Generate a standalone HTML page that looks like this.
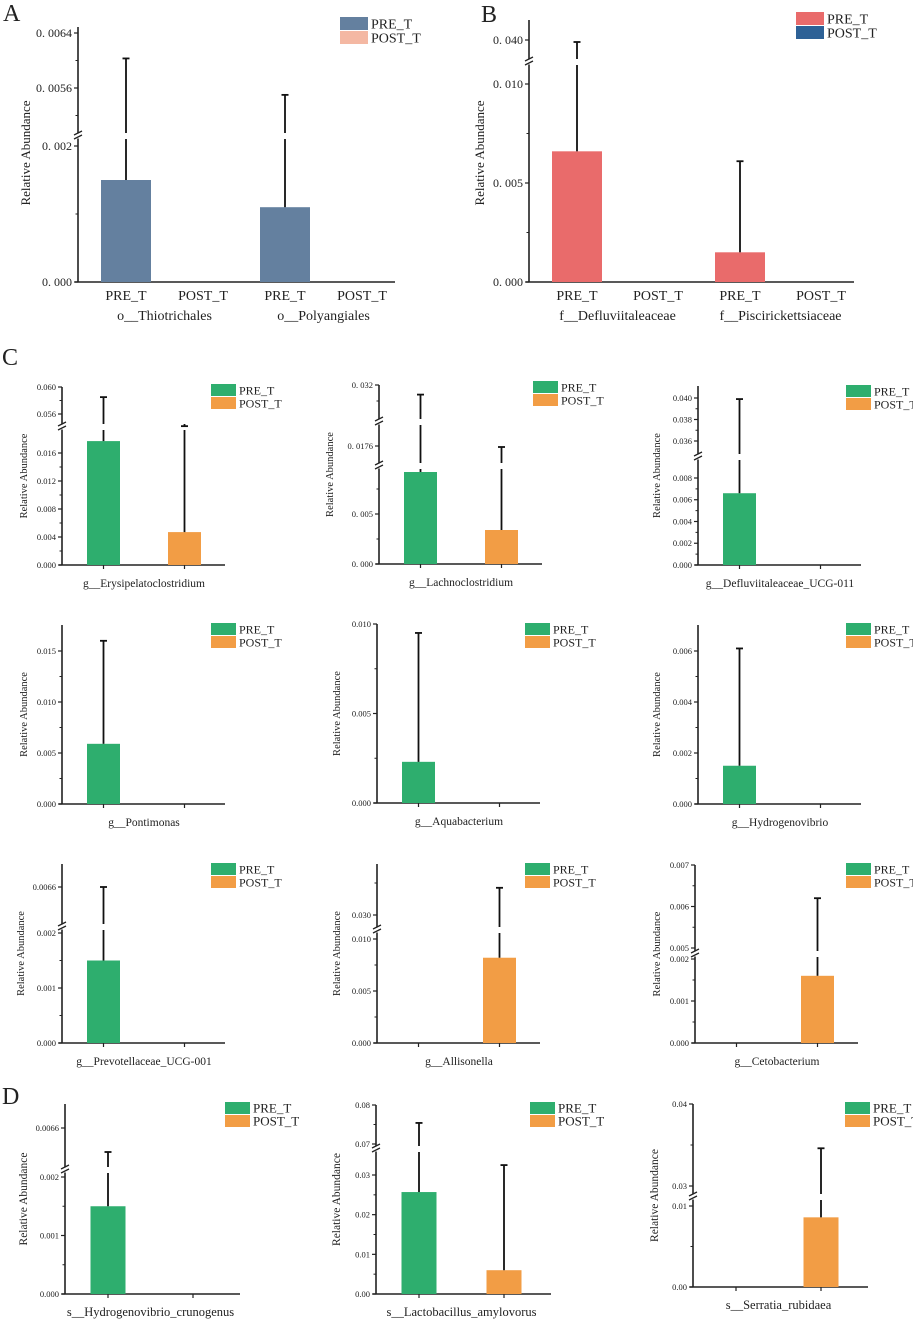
<!DOCTYPE html>
<html><head><meta charset="utf-8"><style>
html,body{margin:0;padding:0;background:#fff}
svg{display:block}
text{font-family:"Liberation Serif",serif;fill:#222}
</style></head><body>
<svg id="fig" width="913" height="1321" viewBox="0 0 913 1321" xmlns="http://www.w3.org/2000/svg">
<text x="3" y="21" font-size="24">A</text>
<text x="481" y="22" font-size="24">B</text>
<text x="2" y="365" font-size="24">C</text>
<text x="2" y="1104" font-size="24">D</text>
</svg>
<script>
// ---------- data ----------
const groups = ["PRE_T","POST_T"];
// Panel A
const aTaxa = ["o__Thiotrichales","o__Polyangiales"];
const aPre = [0.0015, 0.0011];
const aPreErr = [0.00603, 0.0055];
const aPost = [0, 0];
const aPostErr = [0, 0];
const aTicks = [0, 0.002, 0.0056, 0.0064];
const aTickLabels = ["0. 000","0. 002","0. 0056","0. 0064"];
const aMinor = [0.001, 0.0052, 0.0060];
// Panel B
const bTaxa = ["f__Defluviitaleaceae","f__Piscirickettsiaceae"];
const bPre = [0.0066, 0.0015];
const bPreErr = [0.0398, 0.0061];
const bPost = [0, 0];
const bPostErr = [0, 0];
const bTicks = [0, 0.005, 0.010, 0.040];
const bTickLabels = ["0. 000","0. 005","0. 010","0. 040"];
const bMinor = [0.0025, 0.0075];
// Panels C (genus) and D (species)
const cTaxa = ["g__Erysipelatoclostridium","g__Lachnoclostridium","g__Defluviitaleaceae_UCG-011",
  "g__Pontimonas","g__Aquabacterium","g__Hydrogenovibrio",
  "g__Prevotellaceae_UCG-001","g__Allisonella","g__Cetobacterium",
  "s__Hydrogenovibrio_crunogenus","s__Lactobacillus_amylovorus","s__Serratia_rubidaea"];
const cPre = [0.0177, 0.0092, 0.0066, 0.0059, 0.0023, 0.0015, 0.0015, 0, 0, 0.0015, 0.0257, 0];
const cPreErr = [0.0585, 0.0314, 0.0399, 0.016, 0.0095, 0.0061, 0.0066, 0, 0, 0.0063, 0.0754, 0];
const cPost = [0.0047, 0.0034, 0, 0, 0, 0, 0, 0.0082, 0.0016, 0, 0.006, 0.0086];
const cPostErr = [0.0542, 0.0175, 0, 0, 0, 0, 0, 0.0317, 0.0062, 0, 0.0325, 0.0346];
const cTicks = [
  [0,0.004,0.008,0.012,0.016,0.056,0.060],
  [0,0.005,0.0176,0.032],
  [0,0.002,0.004,0.006,0.008,0.036,0.038,0.040],
  [0,0.005,0.010,0.015],
  [0,0.005,0.010],
  [0,0.002,0.004,0.006],
  [0,0.001,0.002,0.0066],
  [0,0.005,0.010,0.030],
  [0,0.001,0.002,0.005,0.006,0.007],
  [0,0.001,0.002,0.0066],
  [0,0.01,0.02,0.03,0.07,0.08],
  [0,0.01,0.03,0.04]];
const cTickLabels = [
  ["0.000","0.004","0.008","0.012","0.016","0.056","0.060"],
  ["0. 000","0. 005","0. 0176","0. 032"],
  ["0.000","0.002","0.004","0.006","0.008","0.036","0.038","0.040"],
  ["0.000","0.005","0.010","0.015"],
  ["0.000","0.005","0.010"],
  ["0.000","0.002","0.004","0.006"],
  ["0.000","0.001","0.002","0.0066"],
  ["0.000","0.005","0.010","0.030"],
  ["0.000","0.001","0.002","0.005","0.006","0.007"],
  ["0.000","0.001","0.002","0.0066"],
  ["0.00","0.01","0.02","0.03","0.07","0.08"],
  ["0.00","0.01","0.03","0.04"]];
const cMinor = [
  [0.002,0.006,0.010,0.014,0.058],
  [0.0025,0.0075,0.031],
  [0.001,0.003,0.005,0.007,0.037,0.039],
  [0.0025,0.0075,0.0125],
  [0.0025,0.0075],
  [0.001,0.003,0.005],
  [0.0005,0.0015],
  [0.0025,0.0075,0.032],
  [0.0005,0.0015,0.0055,0.0065],
  [0.0005,0.0015],
  [0.005,0.015,0.025,0.075],
  [0.005,0.035]];

// ---------- layout (axes geometry, not data) ----------
const NS = "http://www.w3.org/2000/svg";
const svg = document.getElementById("fig");
function mk(tag, attrs, parent){
  const e = document.createElementNS(NS, tag);
  for (const k in attrs) e.setAttribute(k, attrs[k]);
  (parent||svg).appendChild(e);
  return e;
}
function makeScale(segs){
  return function(v){
    let s = segs[0];
    for (let i = segs.length-1; i >= 0; i--){ if (v >= segs[i].lo){ s = segs[i]; break; } }
    return s.a[1] + (v - s.a[0]) * (s.b[1]-s.a[1]) / (s.b[0]-s.a[0]);
  };
}
const panelLayouts = {
  A:{x0:78,xEnd:395,yb:282,yTop:27,breaks:[136],centers:[126,203,285,362],
     segs:[{a:[0,282],b:[0.002,146],lo:0},{a:[0.0056,88],b:[0.0064,33],lo:0.0050}],
     colors:["#64809F","#F4B8A3"],leg:[340,17],title:[30,153]},
  B:{x0:529,xEnd:854,yb:282,yTop:20,breaks:[62],centers:[577,658,740,821],
     segs:[{a:[0,282],b:[0.010,84],lo:0},{a:[0.040,40],b:[0.039,50],lo:0.038}],
     colors:["#E96B6B","#2D6196"],leg:[796,12],title:[484,153]}
};
const cLayouts = [
  {x0:62,yb:565,yTop:387,breaks:[427],segs:[{a:[0,565],b:[0.016,453],lo:0},{a:[0.056,414],b:[0.060,387],lo:0.0542}],leg:[211,384],tx:27},
  {x0:379,yb:564,yTop:385,breaks:[466,422],segs:[{a:[0,564],b:[0.005,514],lo:0},{a:[0.0176,446],b:[0.0186,436],lo:0.016},{a:[0.032,385],b:[0.031,401],lo:0.0297}],leg:[533,381],tx:333},
  {x0:698,yb:565,yTop:386,breaks:[457],segs:[{a:[0,565],b:[0.008,478],lo:0},{a:[0.040,398],b:[0.036,441],lo:0.0354}],leg:[846,385],tx:660},
  {x0:62,yb:804,yTop:625,breaks:[],segs:[{a:[0,804],b:[0.015,651],lo:0}],leg:[211,623],tx:27},
  {x0:377,yb:803,yTop:624,breaks:[],segs:[{a:[0,803],b:[0.010,624],lo:0}],leg:[525,623],tx:340},
  {x0:698,yb:804,yTop:625,breaks:[],segs:[{a:[0,804],b:[0.006,651],lo:0}],leg:[846,623],tx:660},
  {x0:62,yb:1043,yTop:864,breaks:[927],segs:[{a:[0,1043],b:[0.002,933],lo:0},{a:[0.0066,887],b:[0.0070,852],lo:0.0062}],leg:[211,863],tx:24},
  {x0:377,yb:1043,yTop:864,breaks:[930],segs:[{a:[0,1043],b:[0.010,939],lo:0},{a:[0.030,915],b:[0.032,883],lo:0.0296}],leg:[525,863],tx:340},
  {x0:695,yb:1043,yTop:865,breaks:[954],segs:[{a:[0,1043],b:[0.002,959],lo:0},{a:[0.005,948],b:[0.007,865],lo:0.0049}],leg:[846,863],tx:660},
  {x0:65,yb:1294,yTop:1104,breaks:[1170],segs:[{a:[0,1294],b:[0.002,1177],lo:0},{a:[0.0066,1128],b:[0.0070,1096],lo:0.0061}],leg:[225,1102],tx:27,d:true},
  {x0:376,yb:1294,yTop:1105,breaks:[1149],segs:[{a:[0,1294],b:[0.03,1175],lo:0},{a:[0.07,1144],b:[0.08,1105],lo:0.0685}],leg:[530,1102],tx:340,d:true},
  {x0:693,yb:1287,yTop:1104,breaks:[1197],segs:[{a:[0,1287],b:[0.01,1206],lo:0},{a:[0.03,1186],b:[0.04,1104],lo:0.0295}],leg:[845,1102],tx:658,d:true}
];

function drawYAxis(g, L, y, ticks, labels, minor, fs){
  const brs = L.breaks.slice().sort((a,b)=>b-a);
  let cur = L.yb;
  brs.forEach(br=>{
    const ln = mk("line",{x1:L.x0,y1:cur,x2:L.x0,y2:br+2.5,stroke:"#222","stroke-width":1.6},g);
    
    
    for (const dy of [0,4]){
      const s = mk("line",{x1:L.x0-4,y1:br+3-dy,x2:L.x0+4,y2:br-1-dy,stroke:"#222","stroke-width":1.3},g);
      
      
    }
    cur = br-2.5;
  });
  const top = mk("line",{x1:L.x0,y1:cur,x2:L.x0,y2:L.yTop,stroke:"#222","stroke-width":1.6},g);
  
  
  ticks.forEach((v,i)=>{
    const yy = y(v);
    const t = mk("line",{x1:L.x0-4,y1:yy,x2:L.x0,y2:yy,stroke:"#222","stroke-width":1.2},g);
    
    
    const tx = mk("text",{x:L.x0-6,y:yy+fs*0.35,"font-size":fs,"text-anchor":"end"},g);
    tx.textContent = labels[i];
    
    
  });
  minor.forEach(v=>{
    const yy = y(v);
    const t = mk("line",{x1:L.x0-2.5,y1:yy,x2:L.x0,y2:yy,stroke:"#222","stroke-width":1},g);
    
    
  });
}
function drawBar(g, L, y, cx, w, val, err, color, name){
  if (val > 0){
    const r = mk("rect",{x:cx-w/2,y:y(val),width:w,height:L.yb-y(val),fill:color},g);
    
    
  }
  if (err > val && err > 0){
    const y0 = y(val), y1 = y(err);
    let cur = y0;
    L.breaks.slice().sort((a,b)=>b-a).forEach(br=>{
      if (br < cur && br > y1){
        const l = mk("line",{x1:cx,y1:cur,x2:cx,y2:br+3,stroke:"#111","stroke-width":1.8},g);
        
        
        cur = br-3;
      }
    });
    const l = mk("line",{x1:cx,y1:cur,x2:cx,y2:y1,stroke:"#111","stroke-width":1.8},g);
    
    
    const c = mk("line",{x1:cx-3.5,y1:y1,x2:cx+3.5,y2:y1,stroke:"#111","stroke-width":1.8},g);
    
    
  }
}
function drawLegend(g, x, y0, colors, fs, w, h){
  groups.forEach((gr,i)=>{
    const r = mk("rect",{x:x,y:y0+i*(h+1),width:w,height:h,fill:colors[i]},g);
    
    
    const t = mk("text",{x:x+w+3,y:y0+i*(h+1)+h-1.5,"font-size":fs},g);
    t.textContent = gr;
    
    
  });
}
function yTitle(g, x, y, fs){
  const t = mk("text",{x:x,y:y,"font-size":fs,"text-anchor":"middle",transform:`rotate(-90 ${x} ${y})`},g);
  t.textContent = "Relative Abundance";
  
  
}

// Panels A & B
[["A",aTaxa,aPre,aPreErr,aPost,aPostErr,aTicks,aTickLabels,aMinor],
 ["B",bTaxa,bPre,bPreErr,bPost,bPostErr,bTicks,bTickLabels,bMinor]].forEach(p=>{
  const [id,taxa,pre,preE,post,postE,ticks,labels,minor] = p;
  const L = panelLayouts[id];
  const g = mk("g",{});
  
  
  const y = makeScale(L.segs);
  drawYAxis(g, L, y, ticks, labels, minor, 12);
  const xa = mk("line",{x1:L.x0-3,y1:L.yb,x2:L.xEnd,y2:L.yb,stroke:"#222","stroke-width":1.6},g);
  
  
  taxa.forEach((tx,i)=>{
    const cPreX = L.centers[i*2], cPostX = L.centers[i*2+1];
    drawBar(g, L, y, cPreX, 50, pre[i], preE[i], L.colors[0], 'bar-pre-'+tx);
    drawBar(g, L, y, cPostX, 50, post[i], postE[i], L.colors[1], 'bar-post-'+tx);
    [[cPreX,"PRE_T"],[cPostX,"POST_T"]].forEach(([cx,lab])=>{
      const t = mk("text",{x:cx,y:300,"font-size":14,"text-anchor":"middle"},g);
      t.textContent = lab;
      
      
    });
    const gl = mk("text",{x:(cPreX+cPostX)/2,y:320,"font-size":14,"text-anchor":"middle"},g);
    gl.textContent = tx;
    
    
  });
  drawLegend(g, L.leg[0], L.leg[1], L.colors, 14, 28, 13);
  yTitle(g, L.title[0], L.title[1], 13);
});

// Panels C & D
const green = "#2EAE6E", orange = "#F29D45";
cLayouts.forEach((L,i)=>{
  const g = mk("g",{});
  
  
  const y = makeScale(L.segs);
  const fs = 8.5;
  drawYAxis(g, L, y, cTicks[i], cTickLabels[i], cMinor[i], fs);
  const len = L.d ? 175 : 163;
  const off1 = L.d ? 43 : 41.5, off2 = L.d ? 128 : 122.5, bw = L.d ? 35 : 33;
  const xa = mk("line",{x1:L.x0-3,y1:L.yb,x2:L.x0+len,y2:L.yb,stroke:"#222","stroke-width":1.6},g);
  
  
  const c1 = L.x0+off1, c2 = L.x0+off2;
  [c1,c2].forEach(cx=>{
    const t = mk("line",{x1:cx,y1:L.yb,x2:cx,y2:L.yb+4,stroke:"#222","stroke-width":1.2},g);
    
    
  });
  drawBar(g, L, y, c1, bw, cPre[i], cPreErr[i], green, 'bar-pre');
  drawBar(g, L, y, c2, bw, cPost[i], cPostErr[i], orange, 'bar-post');
  const xl = mk("text",{x:(c1+c2)/2,y:L.yb+22,"font-size":L.d?12.5:11.5,"text-anchor":"middle"},g);
  xl.textContent = cTaxa[i];
  
  
  drawLegend(g, L.leg[0], L.leg[1], [green,orange], L.d?13:12, 25, 12);
  yTitle(g, L.tx, (L.yb+L.yTop)/2, L.d?11.5:10.5);
});
</script>
</body></html>
